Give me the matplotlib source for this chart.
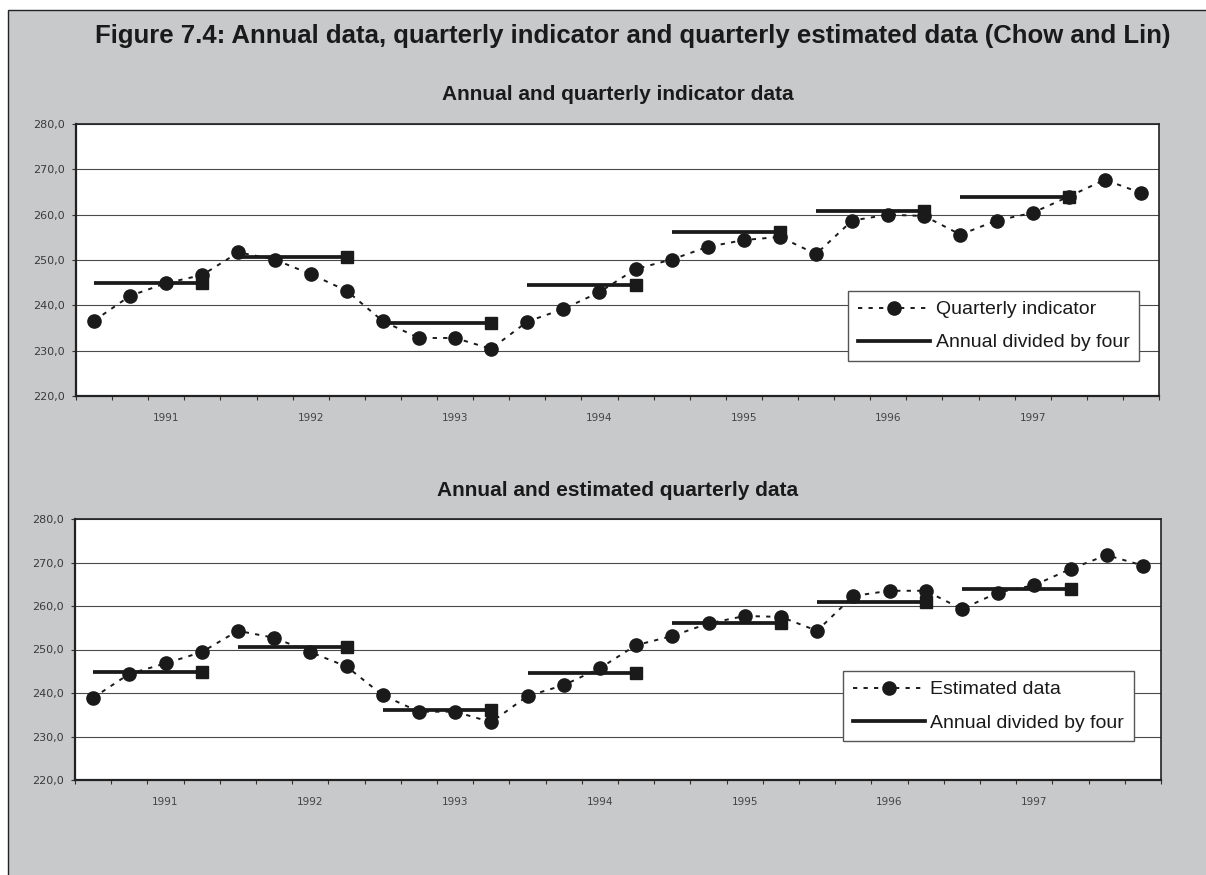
import numpy as np
import matplotlib
matplotlib.use("Agg")
import matplotlib.pyplot as plt
from matplotlib.patches import Rectangle
from matplotlib.lines import Line2D
from matplotlib.ticker import FixedLocator, FuncFormatter, NullFormatter

# Quarterly series 1991Q1 .. 1998Q2 and annual totals divided by four (1991 .. 1997)
years = ['1991', '1992', '1993', '1994', '1995', '1996', '1997']
indicator = [236.6, 242.1, 244.9, 246.7, 251.7, 250.1, 246.9, 243.2,
             236.5, 232.8, 232.8, 230.4, 236.4, 239.2, 242.9, 248.0,
             250.1, 252.9, 254.4, 255.1, 251.3, 258.7, 260.0, 259.7,
             255.6, 258.7, 260.4, 264.0, 267.7, 264.8]
estimated = [238.9, 244.4, 246.8, 249.4, 254.3, 252.7, 249.4, 246.1,
             239.5, 235.7, 235.7, 233.3, 239.3, 241.8, 245.7, 251.0,
             253.1, 256.0, 257.7, 257.5, 254.3, 262.3, 263.5, 263.5,
             259.3, 263.1, 264.8, 268.5, 271.7, 269.3]
annual_by_four = [244.9, 250.6, 236.1, 244.5, 256.1, 260.9, 263.9]

fig_title = "Figure 7.4: Annual data, quarterly indicator and quarterly estimated data (Chow and Lin)"
panel_titles = ["Annual and quarterly indicator data", "Annual and estimated quarterly data"]
quarterly_labels = ["Quarterly indicator", "Estimated data"]
annual_label = "Annual divided by four"

W, H = 1206, 875
fig = plt.figure(figsize=(W / 100, H / 100), dpi=100)
fig.patch.set_facecolor("white")

BG = "#c8c9cb"
INK = "#1a1a1a"
fig.patches.append(Rectangle((8 / W, -0.01), 1.0, 1 - 10 / H + 0.01,
                             transform=fig.transFigure, facecolor=BG,
                             edgecolor="#222222", linewidth=1.0, zorder=-10))

title_font = ["Liberation Sans", "DejaVu Sans"]
fig.text(95 / W, 1 - 36 / H, fig_title, fontsize=18.5, fontweight="bold",
         family=title_font, color=INK, ha="left", va="center")

# axes boxes in pixels: left, top, right, bottom
boxes = [(76, 124, 1159, 396), (75, 519, 1161, 780)]
legend_anchor = [(848, 291), (843, 671)]
title_y = [95, 491]
series = [indicator, estimated]


def fmt_comma(v, pos):
    return f"{v:.1f}".replace(".", ",")


for i in range(2):
    l, t, r, b = boxes[i]
    ax = fig.add_axes([l / W, 1 - b / H, (r - l) / W, (b - t) / H])
    ax.set_facecolor("white")
    q = series[i]
    x = np.arange(len(q))

    # annual level segments, square marker on the fourth quarter
    for k, val in enumerate(annual_by_four):
        xs = x[4 * k:4 * k + 4]
        ax.plot([xs[0], xs[-1]], [val, val], color=INK, lw=2.7,
                solid_capstyle="butt", zorder=3)
        ax.plot([xs[-1]], [val], marker="s", ms=8.5, color=INK, zorder=3)

    ax.plot(x, q, ls=(0, (2.2, 3.2)), color=INK, lw=1.4, marker="o",
            ms=9.5, mfc=INK, mec=INK, zorder=4)

    ax.set_xlim(-0.5, len(q) - 0.5)
    ax.set_ylim(220, 280)
    ax.yaxis.set_major_locator(FixedLocator(np.arange(220, 281, 10)))
    ax.yaxis.set_major_formatter(FuncFormatter(fmt_comma))
    ax.grid(axis="y", color="#4a4a4a", lw=0.8, zorder=1)
    ax.set_axisbelow(True)

    ax.xaxis.set_major_locator(FixedLocator(np.arange(-0.5, len(q), 1.0)))
    ax.xaxis.set_major_formatter(NullFormatter())
    ax.xaxis.set_minor_locator(FixedLocator([2 + 4 * k for k in range(len(years))]))
    ax.set_xticklabels(years, minor=True)
    ax.tick_params(axis="x", which="major", length=3, width=0.8, color="#333333")
    ax.tick_params(axis="x", which="minor", length=0, pad=12, labelsize=7.5,
                   labelcolor="#444444")
    ax.tick_params(axis="y", length=3, width=0.8, color="#333333", pad=5,
                   labelsize=8, labelcolor="#3a3a3a")
    for sp in ax.spines.values():
        sp.set_color("#222222")
        sp.set_linewidth(1.2)
    ax.spines["bottom"].set_linewidth(1.6)
    ax.spines["left"].set_linewidth(1.6)

    fig.text((l + r) / 2 / W, 1 - title_y[i] / H, panel_titles[i], fontsize=15,
             fontweight="bold", family=title_font, color=INK,
             ha="center", va="center")

    handles = [Line2D([], [], ls=(0, (2.2, 3.2)), color=INK, lw=1.4, marker="o",
                      ms=9.5, mfc=INK, mec=INK),
               Line2D([], [], color=INK, lw=2.7)]
    lx, ly = legend_anchor[i]
    leg = ax.legend(handles, [quarterly_labels[i], annual_label],
                    loc="upper left", bbox_to_anchor=(lx / W, 1 - ly / H),
                    bbox_transform=fig.transFigure, borderaxespad=0,
                    frameon=True, fancybox=False, framealpha=1,
                    edgecolor="#555555", handlelength=3.7,
                    handletextpad=0.3, labelspacing=0.8, borderpad=0.5,
                    numpoints=1, prop={"family": title_font, "size": 14})
    leg.get_frame().set_linewidth(1.0)
    for txt in leg.get_texts():
        txt.set_color(INK)

fig.savefig("out.png", dpi=100, facecolor=fig.get_facecolor())
